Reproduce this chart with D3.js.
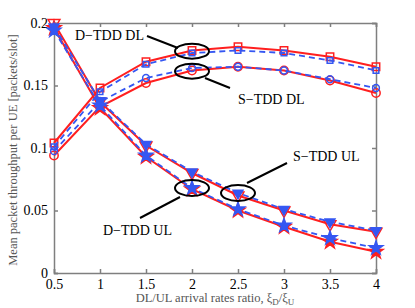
<!DOCTYPE html>
<html>
<head>
<meta charset="utf-8">
<script src="https://cdn.jsdelivr.net/npm/d3@7"></script>
<style>
  html, body { margin: 0; padding: 0; background: #fff; }
  svg { display: block; font-family: "Liberation Serif", "DejaVu Serif", serif; }
</style>
</head>
<body>
<div id="chart"></div>
<script>
// x values (DL/UL arrival rates ratio)
const ratios = [0.5, 1, 1.5, 2, 2.5, 3, 3.5, 4];
const yTicks = [0, 0.05, 0.1, 0.15, 0.2];
const yTickLabels = ["0", "0.05", "0.1", "0.15", "0.2"];
const xTickLabels = ["0.5", "1", "1.5", "2", "2.5", "3", "3.5", "4"];

// red solid / blue dashed pairs
const dtddDlRed  = [0.104, 0.148, 0.169, 0.178, 0.181, 0.178, 0.173, 0.165];
const dtddDlBlue = [0.101, 0.145, 0.167, 0.176, 0.178, 0.176, 0.170, 0.162];
const stddDlRed  = [0.094, 0.133, 0.152, 0.162, 0.165, 0.162, 0.154, 0.144];
const stddDlBlue = [0.0975, 0.137, 0.156, 0.164, 0.165, 0.162, 0.155, 0.148];
const stddUlRed  = [0.200, 0.137, 0.102, 0.080, 0.062, 0.050, 0.039, 0.033];
const stddUlBlue = [0.197, 0.138, 0.103, 0.081, 0.064, 0.051, 0.041, 0.034];
const dtddUlRed  = [0.196, 0.132, 0.093, 0.067, 0.050, 0.037, 0.025, 0.017];
const dtddUlBlue = [0.194, 0.134, 0.094, 0.068, 0.051, 0.038, 0.028, 0.020];

(function () {
  const width = 415, height = 308;
  const margin = { top: 23, right: 39, bottom: 35, left: 54 };
  const innerW = width - margin.left - margin.right;
  const innerH = height - margin.top - margin.bottom;

  const RED = "#ff1f1f";
  const BLUE = "#3557f2";
  const AXIS = "#7f7f7f";

  const svg = d3.select("#chart").append("svg")
    .attr("width", width)
    .attr("height", height);

  const g = svg.append("g").attr("transform", `translate(${margin.left},${margin.top})`);

  const x = d3.scaleLinear().domain([0.5, 4]).range([0, innerW]);
  const y = d3.scaleLinear().domain([0, 0.2]).range([innerH, 0]);

  // axes: ticks inward on all four sides
  const bottom = g.append("g")
    .attr("transform", `translate(0,${innerH})`)
    .call(d3.axisBottom(x).tickValues(ratios).tickSize(-4).tickPadding(8)
      .tickFormat((d, i) => xTickLabels[i]));
  g.append("g")
    .call(d3.axisLeft(y).tickValues(yTicks).tickSize(-4).tickPadding(6)
      .tickFormat((d, i) => yTickLabels[i]));
  g.append("g")
    .call(d3.axisTop(x).tickValues(ratios).tickSize(-4).tickFormat(""));
  g.append("g")
    .attr("transform", `translate(${innerW},0)`)
    .call(d3.axisRight(y).tickValues(yTicks).tickSize(-4).tickFormat(""));

  g.selectAll(".domain, .tick line").attr("stroke", AXIS).attr("stroke-width", 1.5);
  g.selectAll(".tick text")
    .attr("fill", "#000")
    .style("font-family", "'Liberation Serif', serif")
    .style("font-size", "14px");
  bottom.selectAll(".tick text").attr("dy", "0.55em");

  const line = d3.line()
    .x((d, i) => x(ratios[i]))
    .y(d => y(d));

  const triDown = {
    draw(ctx, size) {
      const s = Math.sqrt(size / (Math.sqrt(3) / 4));
      const h = s * Math.sqrt(3) / 2;
      ctx.moveTo(-s / 2, -h / 3);
      ctx.lineTo(s / 2, -h / 3);
      ctx.lineTo(0, 2 * h / 3);
      ctx.closePath();
    }
  };

  const series = [
    { data: dtddDlRed,  color: RED,  dash: null,  shape: d3.symbolSquare, size: 55, fill: "none" },
    { data: stddDlRed,  color: RED,  dash: null,  shape: d3.symbolCircle, size: 55, fill: "none" },
    { data: stddUlRed,  color: RED,  dash: null,  shape: triDown,         size: 60, fill: "none" },
    { data: dtddUlRed,  color: RED,  dash: null,  shape: d3.symbolStar,   size: 60, fill: RED },
    { data: dtddDlBlue, color: BLUE, dash: "6,4", shape: d3.symbolSquare, size: 32, fill: "none" },
    { data: stddDlBlue, color: BLUE, dash: "6,4", shape: d3.symbolCircle, size: 36, fill: "none" },
    { data: stddUlBlue, color: BLUE, dash: "6,4", shape: triDown,         size: 42, fill: BLUE },
    { data: dtddUlBlue, color: BLUE, dash: "6,4", shape: d3.symbolStar,   size: 55, fill: BLUE }
  ];

  series.forEach(s => {
    g.append("path")
      .datum(s.data)
      .attr("fill", "none")
      .attr("stroke", s.color)
      .attr("stroke-width", s.color === RED ? 2 : 1.8)
      .attr("stroke-dasharray", s.dash)
      .attr("d", line);

    g.append("g").selectAll("path")
      .data(s.data)
      .enter()
      .append("path")
      .attr("transform", (d, i) => `translate(${x(ratios[i])},${y(d)})`)
      .attr("d", d3.symbol().type(s.shape).size(s.size))
      .attr("fill", s.fill)
      .attr("stroke", s.color)
      .attr("stroke-width", 1.5);
  });

  // annotations (ellipses around curve pairs, pointer lines, labels)
  const ann = g.append("g").attr("fill", "none").attr("stroke", "#000").attr("stroke-width", 2);
  const ellipses = [
    { cx: 2, cy: 0.1775, rx: 17, ry: 7.5 },
    { cx: 2, cy: 0.1615, rx: 17, ry: 7.5 },
    { cx: 2, cy: 0.068, rx: 17, ry: 8 },
    { cx: 2.5, cy: 0.064, rx: 17, ry: 8 }
  ];
  ellipses.forEach(e => {
    ann.append("ellipse")
      .attr("cx", x(e.cx)).attr("cy", y(e.cy))
      .attr("rx", e.rx).attr("ry", e.ry);
  });

  const pointers = [
    [[147, 36], [178, 48]],
    [[205, 78], [230, 88]],
    [[180, 197], [140, 218]],
    [[247, 183], [287, 163]]
  ];
  pointers.forEach(p => {
    ann.append("line")
      .attr("x1", p[0][0] - margin.left).attr("y1", p[0][1] - margin.top)
      .attr("x2", p[1][0] - margin.left).attr("y2", p[1][1] - margin.top);
  });

  const labels = [
    { text: "D\u2212TDD DL", x: 75, y: 40 },
    { text: "S\u2212TDD DL", x: 238, y: 104 },
    { text: "D\u2212TDD UL", x: 103, y: 235 },
    { text: "S\u2212TDD UL", x: 293, y: 161 }
  ];
  labels.forEach(l => {
    svg.append("text")
      .attr("x", l.x).attr("y", l.y)
      .attr("fill", "#000")
      .style("font-size", "14px")
      .text(l.text);
  });

  // axis titles
  const xt = svg.append("text")
    .attr("x", margin.left + innerW / 2)
    .attr("y", 302)
    .attr("text-anchor", "middle")
    .attr("fill", "#555")
    .style("font-size", "12.5px");
  xt.append("tspan").text("DL/UL arrival rates ratio, \u03BE");
  xt.append("tspan").attr("dy", 3).style("font-size", "9px").text("D");
  xt.append("tspan").attr("dy", -3).text("/\u03BE");
  xt.append("tspan").attr("dy", 3).style("font-size", "9px").text("U");

  svg.append("text")
    .attr("transform", `translate(17,${margin.top + innerH / 2 + 2}) rotate(-90)`)
    .attr("text-anchor", "middle")
    .attr("fill", "#555")
    .style("font-size", "12.5px")
    .text("Mean packet throughput per UE [packets/slot]");
})();
</script>
</body>
</html>
